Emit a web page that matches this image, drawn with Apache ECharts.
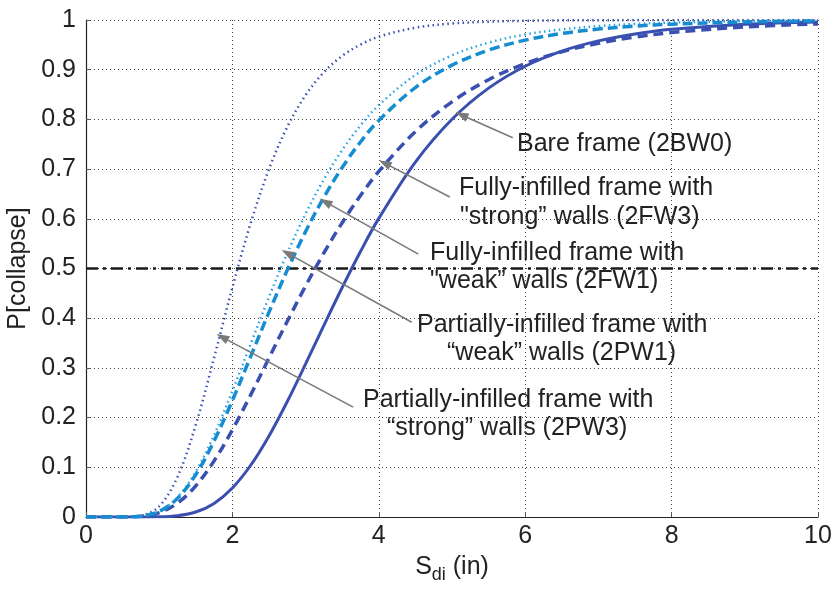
<!DOCTYPE html>
<html>
<head>
<meta charset="utf-8">
<script src="https://cdn.jsdelivr.net/npm/echarts@6/dist/echarts.min.js"></script>
<style>
  html, body { margin: 0; padding: 0; background: #fff; }
  #chart { width: 839px; height: 596px; }
</style>
</head>
<body>
<div id="chart"></div>
<script>
// Spectral displacement S_di (in) at which each fragility curve is sampled
const sdi = [0, 0.5, 0.75, 1, 1.25, 1.5, 1.75, 2, 2.25, 2.5, 2.75, 3, 3.25, 3.5, 3.75, 4, 4.5, 5, 5.5, 6, 6.5, 7, 7.5, 8, 9, 10];

// P[collapse] for each building configuration
const bareFrame2BW0 = [0, 0, 0, 0.0003, 0.0025, 0.0100, 0.0274, 0.0584, 0.1041, 0.1632, 0.2325, 0.3080, 0.3856, 0.4618, 0.5342, 0.6008, 0.7141, 0.8003, 0.8629, 0.9070, 0.9374, 0.9580, 0.9719, 0.9812, 0.9916, 0.9962];
const fullyStrong2FW3 = [0, 0.0001, 0.0015, 0.0087, 0.0279, 0.0627, 0.1129, 0.1754, 0.2458, 0.3199, 0.3937, 0.4648, 0.5313, 0.5921, 0.6468, 0.6953, 0.7753, 0.8354, 0.8799, 0.9124, 0.9361, 0.9532, 0.9657, 0.9747, 0.9861, 0.9922];
const fullyWeak2FW1 = [0, 0.0001, 0.0017, 0.0113, 0.0375, 0.0853, 0.1530, 0.2346, 0.3231, 0.4121, 0.4968, 0.5743, 0.6433, 0.7033, 0.7546, 0.7978, 0.8641, 0.9091, 0.9394, 0.9595, 0.9729, 0.9818, 0.9877, 0.9916, 0.9960, 0.9981];
const partialWeak2PW1 = [0, 0.0001, 0.0016, 0.0115, 0.0395, 0.0914, 0.1651, 0.2536, 0.3485, 0.4427, 0.5309, 0.6102, 0.6794, 0.7384, 0.7878, 0.8286, 0.8893, 0.9289, 0.9544, 0.9707, 0.9811, 0.9878, 0.9920, 0.9948, 0.9977, 0.9990];
const partialStrong2PW3 = [0, 0, 0.0024, 0.0216, 0.0806, 0.1856, 0.3206, 0.4619, 0.5916, 0.7000, 0.7850, 0.8487, 0.8950, 0.9278, 0.9506, 0.9664, 0.9845, 0.9929, 0.9967, 0.9984, 0.9993, 0.9996, 0.9998, 0.9999, 1.0, 1.0];

// 50% collapse reference level
const medianLevelX = [0, 10];
const medianLevelY = [0.5, 0.5];

// Axis ticks
const xTicks = [0, 2, 4, 6, 8, 10];
const yTicks = [0, 0.1, 0.2, 0.3, 0.4, 0.5, 0.6, 0.7, 0.8, 0.9, 1];

// Callout arrows: [tail S_di, tail P, head S_di, head P]
const arrowBare = [5.83, 0.763, 5.13, 0.809];
const arrowFW3 = [4.97, 0.644, 4.08, 0.712];
const arrowFW1 = [4.54, 0.529, 3.27, 0.634];
const arrowPW1 = [4.45, 0.392, 2.75, 0.531];
const arrowPW3 = [3.65, 0.221, 1.86, 0.362];

const FONT = '"Liberation Sans", Arial, sans-serif';
const DARK = '#3a50b0';
const LIGHT_DASH = '#168dd0';
const LIGHT_DOT = '#2aa2e2';

function pairs(xs, ys) { return xs.map((x, i) => [x, ys[i]]); }

function arrow(a) {
  return [{ coord: [a[0], a[1]] }, { coord: [a[2], a[3]] }];
}

function curve(name, ys, color, width, type) {
  return {
    name: name,
    type: 'line',
    data: pairs(sdi, ys),
    showSymbol: false,
    smooth: 0.35,
    lineStyle: { color: color, width: width, type: type, cap: 'butt' },
    silent: true,
    animation: false
  };
}

const chart = echarts.init(document.getElementById('chart'), null, { renderer: 'canvas' });

const textStyle = { fontFamily: FONT, fontSize: 25, fill: '#222' };
function label(text, left, cy) {
  return { type: 'text', left: left, top: cy - 14, style: Object.assign({ text: text }, textStyle), silent: true };
}

chart.setOption({
  animation: false,
  backgroundColor: '#fff',
  grid: { left: 86, right: 21, top: 20, bottom: 79, containLabel: false, outerBoundsMode: 'none' },
  xAxis: {
    type: 'value',
    min: 0, max: 10, interval: 2,
    name: 'S{sub|di} (in)',
    nameLocation: 'middle',
    nameGap: 33,
    nameTextStyle: {
      fontFamily: FONT, fontSize: 25, color: '#222',
      rich: { sub: { fontFamily: FONT, fontSize: 18, color: '#222', verticalAlign: 'bottom', padding: [16, 0, 0, 0] } }
    },
    axisLine: { show: true, lineStyle: { color: '#222', width: 1.2 } },
    axisTick: { show: true, inside: true, length: 5, lineStyle: { color: '#555' } },
    axisLabel: { fontFamily: FONT, fontSize: 25, color: '#222', margin: 7,
      formatter: v => xTicks.indexOf(v) >= 0 ? String(v) : '' },
    splitLine: { show: true, lineStyle: { color: '#444', width: 1, type: [1, 3] } }
  },
  yAxis: {
    type: 'value',
    min: 0, max: 1, interval: 0.1,
    name: 'P[collapse]',
    nameLocation: 'middle',
    nameGap: 55,
    nameRotate: 90,
    nameTextStyle: { fontFamily: FONT, fontSize: 25, color: '#222' },
    axisLine: { show: true, lineStyle: { color: '#222', width: 1.2 } },
    axisTick: { show: true, inside: true, length: 5, lineStyle: { color: '#555' } },
    axisLabel: { fontFamily: FONT, fontSize: 25, color: '#222', margin: 10,
      formatter: v => { const t = yTicks.find(k => Math.abs(k - v) < 1e-9); return t === undefined ? '' : String(t); } },
    splitLine: { show: true, lineStyle: { color: '#444', width: 1, type: [1, 3] } }
  },
  series: [
    {
      name: '50%',
      type: 'line',
      data: pairs(medianLevelX, medianLevelY),
      showSymbol: false,
      lineStyle: { color: '#1a1a1a', width: 2.5, type: [12, 5, 3, 5] },
      silent: true,
      animation: false,
      markLine: {
        silent: true,
        animation: false,
        symbol: ['none', 'triangle'],
        symbolSize: [9, 13],
        lineStyle: { color: '#7a7a7a', width: 1.6, type: 'solid' },
        itemStyle: { color: '#7a7a7a' },
        label: { show: false },
        data: [arrow(arrowBare), arrow(arrowFW3), arrow(arrowFW1), arrow(arrowPW1), arrow(arrowPW3)]
      }
    },
    curve('Bare frame (2BW0)', bareFrame2BW0, DARK, 3, 'solid'),
    curve('Fully-infilled strong (2FW3)', fullyStrong2FW3, DARK, 3.5, [10, 6]),
    curve('Partially-infilled strong (2PW3)', partialStrong2PW3, DARK, 2.5, [1.5, 3.5]),
    curve('Partially-infilled weak (2PW1)', partialWeak2PW1, LIGHT_DOT, 2.5, [1.5, 3.5]),
    curve('Fully-infilled weak (2FW1)', fullyWeak2FW1, LIGHT_DASH, 3.5, [10, 5])
  ],
  graphic: [
    label('Bare frame (2BW0)', 517, 146),
    label('Fully-infilled frame with', 459, 190),
    label('"strong\u201d walls (2FW3)', 460, 219),
    label('Fully-infilled frame with', 430, 255),
    label('"weak\u201d walls (2FW1)', 430, 283),
    label('Partially-infilled frame with', 417, 327),
    label('\u201cweak\u201d walls (2PW1)', 447, 355),
    label('Partially-infilled frame with', 363, 402),
    label('\u201cstrong\u201d walls (2PW3)', 387, 430)
  ]
});
</script>
</body>
</html>
